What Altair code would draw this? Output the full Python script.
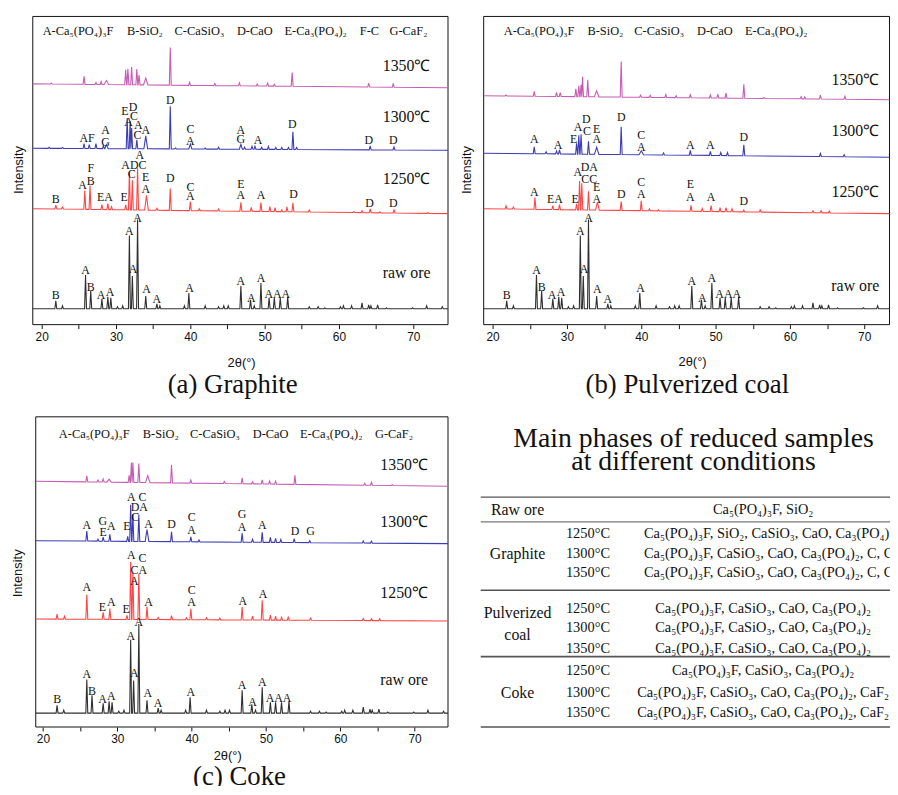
import altair as alt
import pandas as pd

SERIF = "Liberation Serif, Times New Roman, serif"
SANS = "Liberation Sans, Arial, sans-serif"
W, H = 890, 778

# ---------------- values ----------------
TRACES = ["raw ore", "1250", "1300", "1350"]
TRACE_COLORS = ["#303030", "#ff4646", "#3c3cb4", "#c75cb5"]

# peaks: (2theta, height above baseline[, half width])
RAW_PEAKS = [(21.9, 8), (22.8, 3), (25.9, 34), (26.6, 18), (28.1, 10), (28.9, 12), (29.3, 11),
             (30.2, 2), (30.9, 3), (31.8, 74), (32.2, 33), (32.9, 90), (34.0, 13), (35.5, 5),
             (35.9, 3), (39.2, 3), (39.8, 16), (42.0, 3), (43.8, 2), (44.5, 3), (45.1, 3),
             (46.8, 23), (48.1, 9), (48.6, 3), (49.5, 26), (50.6, 11), (51.3, 11), (52.1, 11),
             (53.1, 12), (56.0, 2), (57.2, 2), (58.1, 1), (60.2, 2), (60.6, 3), (61.7, 3),
             (63.1, 6), (64.0, 4), (64.3, 3), (65.2, 4), (66.4, 1), (69.9, 1), (71.8, 3), (73.9, 2)]

A1250 = [(21.9, 4), (22.8, 2), (25.8, 19), (26.5, 24), (28.1, 5), (28.9, 6), (29.4, 3), (31.3, 5),
         (31.8, 38), (32.2, 30), (32.9, 42), (34.1, 15, 0.25), (35.5, 2), (37.3, 22), (40.0, 9),
         (41.2, 2), (43.8, 2), (46.8, 9), (48.2, 4), (49.5, 9), (50.7, 5), (51.4, 4), (52.3, 2),
         (53.0, 5), (53.8, 9), (56.0, 2), (62.0, 1), (63.1, 2), (64.2, 4), (65.5, 1), (67.4, 3), (72.0, 1)]
A1300 = [(21.0, 1), (22.8, 1), (25.7, 5), (26.4, 4), (27.3, 5), (28.3, 3), (28.7, 4, 0.25), (31.5, 31),
         (31.9, 28), (32.1, 21), (32.8, 9), (34.0, 13, 0.25), (37.3, 43), (38.0, 1), (40.0, 5, 0.2),
         (42.0, 1), (43.8, 2), (46.8, 5, 0.2), (47.3, 2), (48.3, 3), (48.7, 3), (49.6, 2), (50.5, 3),
         (51.5, 2), (52.3, 2), (53.2, 2), (53.8, 18), (54.3, 2), (64.2, 4), (67.4, 3)]
A1350 = [(21.3, 1), (25.7, 8), (27.3, 2), (28.0, 3), (28.7, 4, 0.3), (31.3, 15), (31.6, 16), (32.1, 18),
         (32.8, 16), (33.1, 10), (34.0, 7, 0.3), (37.3, 38), (39.9, 3), (43.3, 2), (46.6, 3), (49.0, 2),
         (50.4, 3), (51.3, 2), (53.7, 14), (64.0, 4), (67.3, 4)]

B1250 = [(21.8, 3), (22.8, 2), (25.7, 12), (28.1, 4), (29.0, 5), (31.3, 6), (31.7, 29), (32.0, 27),
         (32.9, 19), (34.1, 8, 0.25), (37.3, 9), (40.0, 10), (41.1, 2), (42.3, 1), (46.7, 6), (48.2, 3),
         (49.4, 6), (50.6, 4), (51.4, 4), (52.2, 3), (53.8, 2), (56.0, 2), (63.1, 2), (64.2, 2), (65.3, 2)]
B1300 = [(25.6, 7), (27.2, 2), (28.6, 3), (29.0, 4), (31.3, 11), (31.6, 19), (31.9, 20), (32.9, 13),
         (34.0, 7, 0.3), (37.3, 28), (40.0, 4, 0.3), (43.0, 2), (46.6, 5), (49.3, 4), (50.7, 3),
         (51.6, 3), (53.8, 11), (64.1, 3), (67.3, 2)]
B1350 = [(21.8, 1), (25.6, 5), (28.6, 4), (29.1, 4), (31.2, 8), (31.6, 11), (31.9, 12), (32.1, 20),
         (32.8, 17), (34.0, 6, 0.3), (37.3, 36), (39.9, 2), (41.2, 2), (43.3, 3), (44.7, 2), (46.6, 3),
         (49.3, 3), (50.3, 4), (51.4, 5), (53.8, 14), (56.5, 1), (61.5, 2), (62.0, 2), (64.1, 4), (67.4, 3)]

C1250 = [(21.9, 5), (22.9, 3), (25.9, 25), (28.1, 7), (29.0, 11), (31.3, 4), (31.8, 58), (32.1, 48),
         (32.9, 46), (34.0, 13), (35.5, 2), (37.3, 4), (39.3, 2), (39.9, 11), (42.0, 2), (43.8, 2),
         (46.8, 13), (48.2, 4), (49.5, 20), (50.6, 5), (51.3, 4), (52.1, 3), (53.0, 3), (56.0, 2),
         (63.1, 2), (64.2, 2), (65.3, 2)]
C1300 = [(25.9, 10), (27.4, 2), (28.1, 4), (29.0, 7), (31.4, 5), (31.8, 37), (32.1, 27), (32.9, 27),
         (34.0, 12, 0.25), (37.3, 10), (39.9, 5), (41.0, 2), (46.8, 9), (48.2, 3), (49.5, 10), (50.6, 5),
         (51.3, 4), (52.0, 3), (53.8, 4), (55.9, 2), (63.1, 2), (64.2, 2)]
C1350 = [(25.9, 6), (27.4, 2), (28.1, 3), (28.9, 3, 0.3), (31.6, 7), (31.9, 20), (32.1, 20), (32.9, 19),
         (34.1, 7, 0.3), (37.3, 18), (39.9, 3), (44.4, 2), (46.8, 6), (48.2, 2), (49.5, 4), (50.5, 3),
         (51.3, 3), (53.9, 9), (63.3, 2), (64.2, 3), (67.0, 1)]

# baselines (left, right)
BASES = {
    "a": {"raw ore": (16, 16), "1250": (117, 112), "1300": (178, 176), "1350": (243, 239)},
    "b": {"raw ore": (16, 16), "1250": (117, 112), "1300": (173, 169), "1350": (231, 227)},
    "c": {"raw ore": (14, 14), "1250": (109, 107), "1300": (188, 185), "1350": (248, 243)},
}
PEAKS = {
    "a": {"raw ore": RAW_PEAKS, "1250": A1250, "1300": A1300, "1350": A1350},
    "b": {"raw ore": RAW_PEAKS, "1250": B1250, "1300": B1300, "1350": B1350},
    "c": {"raw ore": RAW_PEAKS, "1250": C1250, "1300": C1300, "1350": C1350},
}

# raw ore phase letters: (text, 2theta, height above baseline)
RAW_LABELS = [("B", 21.9, 14), ("A", 25.9, 39), ("B", 26.6, 22), ("A", 28.0, 14), ("A", 29.2, 17),
              ("A", 31.8, 78), ("A", 32.9, 92), ("A", 32.3, 40), ("A", 34.1, 20), ("A", 35.5, 10),
              ("A", 39.9, 21), ("A", 46.8, 28), ("A", 48.2, 11), ("A", 49.5, 31), ("AAA", 51.7, 15)]

LABELS = {
    "a": [("B", 21.9, 127), ("A", 25.5, 141), ("F", 26.6, 158), ("B", 26.6, 145), ("EA", 28.5, 129),
          ("E", 31.1, 129), ("A", 33.2, 171), ("ADC", 32.4, 161), ("C", 32.1, 152), ("E", 34.0, 149),
          ("A", 34.0, 137), ("D", 37.3, 148), ("C", 40.0, 139), ("A", 40.0, 130), ("E", 46.8, 142),
          ("A", 46.8, 131), ("A", 49.5, 131), ("D", 53.9, 132), ("D", 64.1, 123), ("D", 67.3, 123),
          ("AF", 26.1, 188), ("A", 28.6, 196), ("G", 28.6, 184), ("E", 31.2, 216), ("D", 32.3, 220),
          ("C", 32.4, 211), ("A", 31.7, 204), ("A", 33.0, 201), ("C", 32.9, 191), ("A", 34.0, 196),
          ("D", 37.3, 227), ("C", 40.0, 197), ("A", 40.0, 185), ("A", 46.8, 196), ("G", 46.8, 187),
          ("A", 49.1, 186), ("D", 53.7, 202), ("D", 64.0, 186), ("D", 67.3, 186)],
    "b": [("A", 25.6, 134), ("EA", 28.4, 127), ("E", 31.1, 127), ("A", 31.45, 154), ("DA", 33.0, 159),
          ("CC", 33.0, 147), ("E", 34.0, 139), ("A", 34.0, 127), ("D", 37.3, 132), ("C", 40.0, 144),
          ("A", 40.0, 132), ("E", 46.6, 142), ("A", 46.6, 129), ("A", 49.4, 129), ("D", 53.8, 125),
          ("A", 25.6, 187), ("A", 28.8, 181), ("E", 30.9, 187), ("A", 31.5, 199), ("D", 32.6, 207),
          ("C", 32.7, 195), ("E", 34.0, 197), ("A", 34.0, 187), ("D", 37.3, 209), ("C", 40.0, 191),
          ("A", 40.0, 179), ("A", 46.6, 181), ("A", 49.3, 181), ("D", 53.8, 189)],
    "c": [("A", 25.9, 141), ("E", 28.0, 121), ("A", 29.2, 126), ("E", 31.2, 119), ("A", 31.9, 174),
          ("C", 33.4, 171), ("CA", 32.9, 158), ("A", 32.3, 147), ("A", 34.2, 126), ("C", 40.0, 138),
          ("A", 40.0, 126), ("A", 46.9, 127), ("A", 49.6, 134),
          ("A", 25.9, 204), ("G", 28.05, 208), ("E", 28.1, 197), ("A", 29.2, 203), ("E", 31.3, 203),
          ("A", 31.9, 232), ("C", 33.4, 232), ("DA", 32.95, 222), ("C", 32.4, 212), ("A", 34.2, 205),
          ("D", 37.3, 205), ("C", 40.0, 212), ("A", 40.0, 199), ("G", 46.8, 215), ("A", 46.8, 202),
          ("A", 49.5, 204), ("D", 53.9, 198), ("G", 56.0, 198)],
}

TEMP_TEXT = ["1350℃", "1300℃", "1250℃", "raw ore"]
TEMP_POS = {"a": (69.1, [261, 209, 147, 52]),
            "b": (68.8, [247, 195, 134, 39]),
            "c": (68.6, [264, 207, 135, 47])}

LEGEND_ITEMS = ["A-Ca₅(PO₄)₃F", "B-SiO₂", "C-CaSiO₃", "D-CaO", "E-Ca₃(PO₄)₂", "F-C", "G-CaF₂"]
LEGEND_POS = {"a": ([0, 1, 2, 3, 4, 5, 6], [20.13, 31.47, 37.87, 46.27, 52.67, 62.8, 66.8]),
              "b": ([0, 1, 2, 3, 4], [21.5, 32.76, 39.07, 47.5, 53.96]),
              "c": ([0, 1, 2, 3, 4, 6], [22.14, 33.43, 39.79, 48.23, 54.59, 64.67])}

CAPTIONS = {"a": ("(a) Graphite", 45.7, -61), "b": ("(b) Pulverized coal", 46.2, -61),
            "c": ("(c) Coke", 46.45, -51)}
XTITLE = {"a": (46.9, -39), "b": (46.9, -38), "c": (44.85, -29)}
YTITLE = {"a": (16.9, 156), "b": (16.5, 156), "c": (16.7, 155)}

TICKS = [20, 25, 30, 35, 40, 45, 50, 55, 60, 65, 70]

# ---------------- panel layout ----------------
PANEL_X = {"a": [18.8, 74.67], "b": [18.8, 73.4], "c": [19.03, 74.5]}
PANEL_XR = {"a": [25, 444], "b": [480, 889.5], "c": [28, 444]}
PANEL_Y = {"a": [0, 311], "b": [0, 311], "c": [0, 313]}
PANEL_YR = {"a": [316, 5], "b": [316, 5], "c": [722, 409]}


def xsc(p):
    return alt.Scale(domain=PANEL_X[p], range=PANEL_XR[p], nice=False, zero=False)


def ysc(p):
    return alt.Scale(domain=PANEL_Y[p], range=PANEL_YR[p], nice=False, zero=False)


def trace_points(peaks, base, xmin, xmax, hw=0.13):
    b0, b1 = base

    def bl(x):
        return b0 + (b1 - b0) * (x - xmin) / (xmax - xmin)

    pk = sorted(peaks, key=lambda t: t[0])
    pts = [(xmin, bl(xmin))]
    for k, pkv in enumerate(pk):
        p, h = pkv[0], pkv[1]
        w = pkv[2] if len(pkv) > 2 else hw
        lg = p - pk[k - 1][0] if k > 0 else 5
        rg = pk[k + 1][0] - p if k < len(pk) - 1 else 5
        wl, wr = min(w, lg / 2), min(w, rg / 2)
        pts += [(p - wl, bl(p - wl)), (p, bl(p) + h), (p + wr, bl(p + wr))]
    pts.append((xmax, bl(xmax)))
    return pts


def text_layer(rows, xs, ys, font, size, align="center", angle=0, color="#111"):
    df = pd.DataFrame(rows, columns=["t", "x", "y"])
    return alt.Chart(df).mark_text(font=font, fontSize=size, align=align, baseline="middle",
                                   angle=angle, color=color).encode(
        x=alt.X("x:Q", scale=xs, axis=None),
        y=alt.Y("y:Q", scale=ys, axis=None),
        text="t:N")


def panel_layers(p):
    xs, ys = xsc(p), ysc(p)
    xmin, xmax = PANEL_X[p]
    layers = []
    frame = pd.DataFrame([{"x": xmin, "x2": xmax, "y": PANEL_Y[p][0], "y2": PANEL_Y[p][1]}])
    layers.append(alt.Chart(frame).mark_rect(fillOpacity=0, stroke="#111", strokeWidth=1).encode(
        x=alt.X("x:Q", scale=xs, axis=None), x2="x2:Q",
        y=alt.Y("y:Q", scale=ys, axis=None), y2="y2:Q"))

    rows = []
    for name in TRACES:
        for i, (x, y) in enumerate(trace_points(PEAKS[p][name], BASES[p][name], xmin, xmax)):
            rows.append({"trace": name, "x": x, "y": y, "i": i})
    off = PANEL_YR[p][0] - H
    axis = alt.Axis(orient="bottom", offset=off, values=TICKS,
                    labelExpr="datum.value % 10 === 0 ? datum.label : ''",
                    grid=False, domain=False, tickSize=4, tickColor="#111", tickWidth=1,
                    labelFont=SANS, labelFontSize=12, labelColor="#111", labelPadding=3,
                    labelOverlap=False, labelFlush=False, title=None)
    layers.append(alt.Chart(pd.DataFrame(rows)).mark_line(strokeWidth=1.1).encode(
        x=alt.X("x:Q", scale=xs, axis=axis),
        y=alt.Y("y:Q", scale=ys, axis=None),
        color=alt.Color("trace:N", scale=alt.Scale(domain=TRACES, range=TRACE_COLORS), legend=None),
        detail="trace:N",
        order=alt.Order("i:Q")))

    rb = BASES[p]["raw ore"][0]
    lab = [(t, x, y + rb) for t, x, y in RAW_LABELS] + LABELS[p]
    layers.append(text_layer(lab, xs, ys, SERIF, 12))

    tx, tys = TEMP_POS[p]
    layers.append(text_layer([(TEMP_TEXT[k], tx, tys[k]) for k in range(4)], xs, ys, SERIF, 16))

    idx, lx = LEGEND_POS[p]
    layers.append(text_layer([(LEGEND_ITEMS[i], x, 296) for i, x in zip(idx, lx)], xs, ys, SERIF, 12.5,
                             align="left"))

    yt = YTITLE[p]
    layers.append(text_layer([("Intensity", yt[0], yt[1])], xs, ys, SANS, 13, angle=270))
    xt = XTITLE[p]
    layers.append(text_layer([("2θ(°)", xt[0], xt[1])], xs, ys, SANS, 13))
    cp = CAPTIONS[p]
    layers.append(text_layer([cp], xs, ys, SERIF, 27))
    return layers


# ---------------- table ----------------
TABLE_TITLE = ["Main phases of reduced samples", "at different conditions"]
GROUPS = ["Raw ore", "Graphite", "Pulverized", "coal", "Coke"]
TEMPS = ["1250°C", "1300°C", "1350°C"]
RAW_PHASE = "Ca₅(PO₄)₃F, SiO₂"
GRAPHITE_PHASES = ["Ca₅(PO₄)₃F, SiO₂, CaSiO₃, CaO, Ca₃(PO₄)₂, C",
                   "Ca₅(PO₄)₃F, CaSiO₃, CaO, Ca₃(PO₄)₂, C, CaF₂",
                   "Ca₅(PO₄)₃F, CaSiO₃, CaO, Ca₃(PO₄)₂, C, CaF₂"]
PULV_PHASES = ["Ca₅(PO₄)₃F, CaSiO₃, CaO, Ca₃(PO₄)₂",
               "Ca₅(PO₄)₃F, CaSiO₃, CaO, Ca₃(PO₄)₂",
               "Ca₅(PO₄)₃F, CaSiO₃, CaO, Ca₃(PO₄)₂"]
COKE_PHASES = ["Ca₅(PO₄)₃F, CaSiO₃, Ca₃(PO₄)₂",
               "Ca₅(PO₄)₃F, CaSiO₃, CaO, Ca₃(PO₄)₂, CaF₂",
               "Ca₅(PO₄)₃F, CaSiO₃, CaO, Ca₃(PO₄)₂, CaF₂"]

# table layout (x in % of table width, y in row units)
TX = alt.Scale(domain=[0, 100], range=[477, 890], nice=False, zero=False)
TY = alt.Scale(domain=[0, 11.3], range=[490, 722], nice=False, zero=False)
COL_GROUP, COL_TEMP, COL_PHASE, COL_PHASE_LEFT, COL_TITLE = 9.0, 26.2, 69.0, 39.9, 52.0
TITLE_Y = [-2.83, -1.70]
GROUP_Y = [0.63, 2.78, 5.70, 6.77, 9.64]
RAW_Y = 0.63
GRAPHITE_Y = [1.80, 2.78, 3.75]
PULV_Y = [5.50, 6.43, 7.45]
COKE_Y = [8.57, 9.64, 10.62]
RULES = [(0, 1.4), (1.22, 1.0), (4.58, 1.6), (7.84, 1.6), (11.3, 1.6)]

table_layers = [
    text_layer([(t, COL_TITLE, y) for t, y in zip(TABLE_TITLE, TITLE_Y)], TX, TY, SERIF, 28),
    text_layer([(g, COL_GROUP, y) for g, y in zip(GROUPS, GROUP_Y)], TX, TY, SERIF, 16),
    text_layer([(t, COL_TEMP, y) for ys_ in (GRAPHITE_Y, PULV_Y, COKE_Y) for t, y in zip(TEMPS, ys_)],
               TX, TY, SERIF, 14.5),
    text_layer([(RAW_PHASE, COL_PHASE, RAW_Y)] +
               [(t, COL_PHASE, y) for t, y in zip(PULV_PHASES, PULV_Y)] +
               [(t, COL_PHASE, y) for t, y in zip(COKE_PHASES, COKE_Y)], TX, TY, SERIF, 14.5),
    text_layer([(t, COL_PHASE_LEFT, y) for t, y in zip(GRAPHITE_PHASES, GRAPHITE_Y)], TX, TY, SERIF, 14.5,
               align="left"),
    alt.Chart(pd.DataFrame([{"x": 0, "x2": 100, "y": y, "w": w} for y, w in RULES])).mark_rule(
        color="#555").encode(
        x=alt.X("x:Q", scale=TX, axis=None), x2="x2:Q",
        y=alt.Y("y:Q", scale=TY, axis=None),
        strokeWidth=alt.StrokeWidth("w:Q", scale=None)),
]

all_layers = panel_layers("a") + panel_layers("b") + panel_layers("c") + table_layers

chart = alt.layer(*all_layers).resolve_scale(x="independent", y="independent").properties(
    width=W, height=H, padding=0, autosize=alt.AutoSizeParams(type="none"),
    background="white").configure_view(stroke=None)

chart.save("out.html", embed_options={"renderer": "svg", "actions": False})
